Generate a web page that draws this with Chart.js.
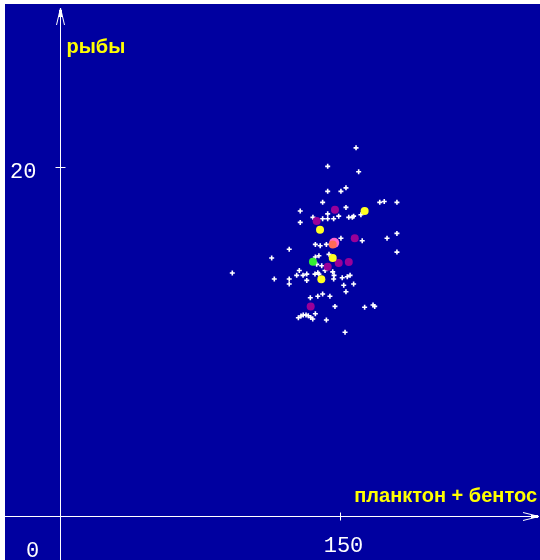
<!DOCTYPE html>
<html>
<head>
<meta charset="utf-8">
<script src="https://cdn.jsdelivr.net/npm/chart.js@4/dist/chart.umd.min.js"></script>
<style>
  html, body { margin: 0; padding: 0; background: #ffffff; }
  #wrap { position: absolute; left: 5px; top: 4px; width: 535px; height: 556px; }
  canvas { display: block; }
</style>
</head>
<body>
<div id="wrap"><canvas id="c" width="535" height="556"></canvas></div>
<script>
// Axis labels and tick values
const xTitle = 'планктон + бентос';
const yTitle = 'рыбы';
const xTicks = [150];
const yTicks = [20];

// Small white samples
const whiteX = [158.6, 143.4, 160.0, 143.4, 150.5, 153.2, 140.7, 171.3, 173.7, 180.5,
  153.2, 128.7, 143.4, 135.5, 140.7, 143.4, 146.6, 149.3, 154.7, 156.6,
  157.3, 161.2, 128.7, 150.5, 161.9, 175.2, 180.5, 180.5, 122.8, 136.8,
  139.4, 142.7, 113.4, 138.7, 136.8, 144.1, 92.3, 114.8, 122.8, 122.8,
  128.2, 126.8, 130.2, 132.2, 132.2, 137.5, 140.2, 136.6, 138.1, 138.7,
  142.0, 146.1, 146.8, 146.6, 151.2, 153.9, 155.4, 152.0, 157.3, 153.2,
  140.7, 138.1, 144.6, 134.1, 147.3, 163.2, 167.7, 168.6, 136.8, 142.7,
  152.7, 127.7, 129.1, 130.3, 131.8, 133.0, 134.3, 135.4];
const whiteY = [21.08, 20.02, 19.71, 18.59, 18.59, 18.79, 17.96, 17.96, 18.01, 17.96,
  17.67, 17.46, 17.30, 17.10, 17.02, 17.02, 17.02, 17.17, 17.10, 17.10,
  17.17, 17.25, 16.81, 15.90, 15.76, 15.90, 16.18, 15.11, 15.27, 15.55,
  15.47, 15.55, 14.77, 14.90, 14.83, 14.98, 13.91, 13.57, 13.57, 13.28,
  14.06, 13.78, 13.78, 13.85, 13.49, 14.41, 14.33, 13.85, 13.93, 13.85,
  14.06, 13.98, 13.78, 13.57, 13.64, 13.70, 13.78, 13.21, 13.28, 12.84,
  12.71, 12.58, 12.58, 12.50, 12.00, 11.95, 12.08, 12.00, 11.58, 11.22,
  10.52, 11.35, 11.45, 11.51, 11.51, 11.47, 11.37, 11.28];

// Highlighted samples
const purpleX = [147.3, 137.5, 157.9, 149.3, 154.7, 143.4, 134.3];
const purpleY = [17.53, 16.89, 15.90, 14.48, 14.54, 14.27, 12.00];
const yellowX = [163.2, 139.3, 146.1, 140.0];
const yellowY = [17.46, 16.39, 14.77, 13.55];
const greenX = [135.5];
const greenY = [14.56];
const pinkX = [146.9];
const pinkY = [15.64];
const redX = [146.1];
const redY = [15.55];

const pts = (xs, ys) => xs.map((x, i) => ({ x: x, y: ys[i] }));

// Scale ranges put the origin near the lower-left corner
const PX_X = 280 / 150;   // pixels per x unit
const PX_Y = 349.3 / 20;  // pixels per y unit
const ORIGIN_X = 55, ORIGIN_Y = 512;
const W = 535, H = 556;

const axesPlugin = {
  id: 'arrowAxes',
  beforeDraw(chart) {
    const ctx = chart.ctx;
    ctx.save();
    ctx.fillStyle = '#0000a0';
    ctx.fillRect(0, 0, chart.width, chart.height);
    ctx.restore();
  },
  beforeDatasetsDraw(chart) {
    const ctx = chart.ctx;
    const xs = chart.scales.x, ys = chart.scales.y;
    const ox = Math.round(xs.getPixelForValue(0)) + 0.5;
    const oy = Math.round(ys.getPixelForValue(0)) + 0.5;
    ctx.save();
    ctx.strokeStyle = '#ffffff';
    ctx.fillStyle = '#ffffff';
    ctx.lineWidth = 1;

    // x axis with arrow
    const xEnd = chart.width - 1;
    ctx.beginPath();
    ctx.moveTo(0, oy); ctx.lineTo(xEnd, oy);
    ctx.moveTo(xEnd, oy); ctx.lineTo(xEnd - 16, oy - 4);
    ctx.moveTo(xEnd, oy); ctx.lineTo(xEnd - 16, oy + 4);
    ctx.stroke();
    ctx.fillRect(xEnd - 8, oy - 1.5, 7, 3);

    // y axis with arrow
    const yEnd = 4;
    ctx.beginPath();
    ctx.moveTo(ox, chart.height); ctx.lineTo(ox, yEnd);
    ctx.moveTo(ox, yEnd); ctx.lineTo(ox - 4, yEnd + 17);
    ctx.moveTo(ox, yEnd); ctx.lineTo(ox + 4, yEnd + 17);
    ctx.stroke();
    ctx.fillRect(ox - 1.5, yEnd + 2, 3, 7);

    // ticks and tick labels
    ctx.font = '22px "Liberation Mono", monospace';
    ctx.textBaseline = 'alphabetic';
    xTicks.forEach(v => {
      const px = Math.round(xs.getPixelForValue(v)) + 0.5;
      ctx.beginPath();
      ctx.moveTo(px, oy - 4); ctx.lineTo(px, oy + 4);
      ctx.stroke();
      ctx.textAlign = 'center';
      ctx.fillText(String(v), px + 3, oy + 35);
    });
    yTicks.forEach(v => {
      const py = Math.round(ys.getPixelForValue(v)) + 0.5;
      ctx.beginPath();
      ctx.moveTo(ox - 5, py); ctx.lineTo(ox + 5, py);
      ctx.stroke();
      ctx.textAlign = 'right';
      ctx.fillText(String(v), ox - 24, py + 10);
    });
    ctx.textAlign = 'center';
    ctx.fillText('0', ox - 28, oy + 40);

    // axis titles
    ctx.fillStyle = '#ffff00';
    ctx.font = 'bold 20px "Liberation Sans", Arial, sans-serif';
    ctx.textAlign = 'left';
    ctx.fillText(yTitle, ox + 6, 49);
    ctx.textAlign = 'right';
    ctx.fillText(xTitle, chart.width - 3, oy - 15);
    ctx.restore();
  }
};

new Chart(document.getElementById('c'), {
  type: 'scatter',
  data: {
    datasets: [
      { data: pts(redX, redY), pointStyle: 'circle', pointRadius: 4, backgroundColor: '#ff6a55', borderWidth: 0 },
      { data: pts(pinkX, pinkY), pointStyle: 'circle', pointRadius: 5, backgroundColor: '#ff66cc', borderWidth: 0 },
      { data: pts(greenX, greenY), pointStyle: 'circle', pointRadius: 4, backgroundColor: '#33ee33', borderWidth: 0 },
      { data: pts(yellowX, yellowY), pointStyle: 'circle', pointRadius: 4, backgroundColor: '#ffff22', borderWidth: 0 },
      { data: pts(purpleX, purpleY), pointStyle: 'circle', pointRadius: 4, backgroundColor: '#990099', borderWidth: 0 },
      { data: pts(whiteX, whiteY), pointStyle: 'cross', pointRadius: 2.5, borderColor: '#ffffff', borderWidth: 1.6 }
    ]
  },
  options: {
    responsive: false,
    animation: false,
    devicePixelRatio: 1,
    layout: { padding: 0, autoPadding: false },
    plugins: { legend: { display: false }, tooltip: { enabled: false } },
    scales: {
      x: { type: 'linear', display: false, min: -ORIGIN_X / PX_X, max: (W - ORIGIN_X) / PX_X },
      y: { type: 'linear', display: false, min: -(H - ORIGIN_Y) / PX_Y, max: ORIGIN_Y / PX_Y }
    }
  },
  plugins: [axesPlugin]
});
</script>
</body>
</html>
